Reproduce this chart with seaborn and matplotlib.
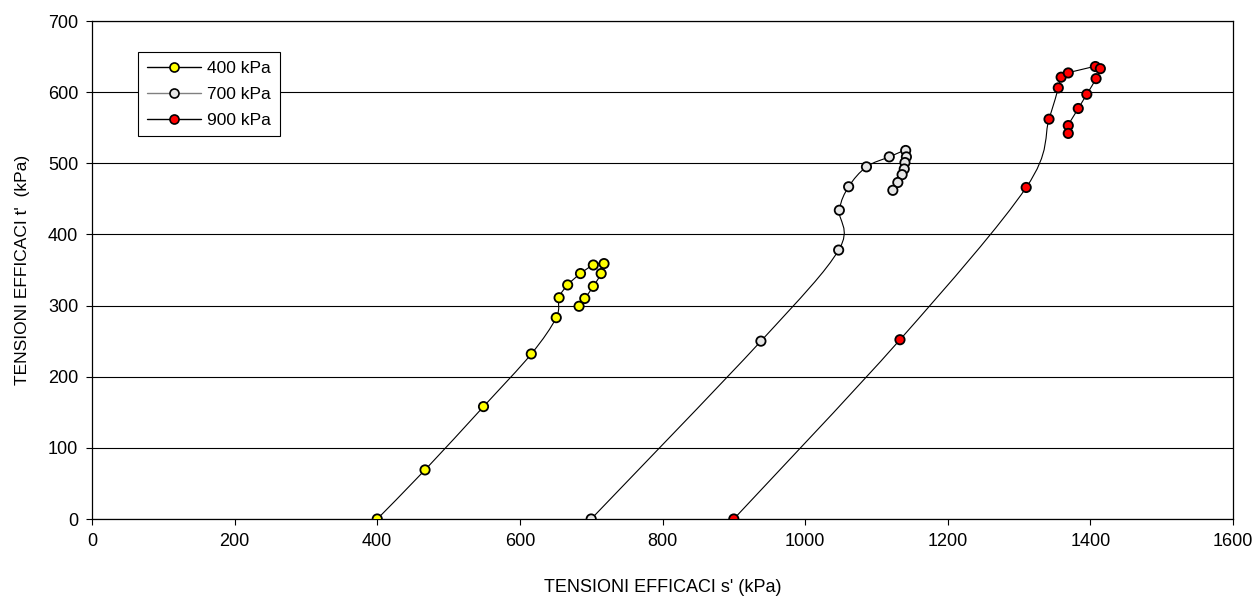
import numpy as np
import pandas as pd
import matplotlib
matplotlib.use("Agg")
import matplotlib.pyplot as plt
from matplotlib.path import Path
from matplotlib.patches import PathPatch
from matplotlib.lines import Line2D
import seaborn as sns

# ---- data ----
s_400 = [400, 467, 549, 616, 651, 655, 667, 685, 703, 718, 714, 703, 691, 683]
t_400 = [0, 69, 158, 232, 283, 311, 329, 345, 357, 359, 345, 327, 310, 299]

s_700 = [700, 938, 1047, 1048, 1061, 1086, 1118, 1141, 1142, 1140, 1139, 1136, 1130, 1123]
t_700 = [0, 250, 378, 434, 467, 495, 509, 518, 509, 501, 492, 484, 473, 462]

s_900 = [900, 1133, 1310, 1342, 1355, 1359, 1369, 1407, 1414, 1408, 1395, 1383, 1369, 1369]
t_900 = [0, 252, 466, 562, 606, 621, 627, 636, 633, 619, 597, 577, 553, 542]

labels = ["400 kPa", "700 kPa", "900 kPa"]
fills = ["#FFFF00", "#E6E6E6", "#FF0000"]
legend_line_colors = ["black", "#808080", "black"]

frames = []
for lab, s, t in zip(labels, [s_400, s_700, s_900], [t_400, t_700, t_900]):
    frames.append(pd.DataFrame({"s": s, "t": t, "serie": lab}))
df = pd.concat(frames, ignore_index=True)

x_ticks = [0, 200, 400, 600, 800, 1000, 1200, 1400, 1600]
y_ticks = [0, 100, 200, 300, 400, 500, 600, 700]

sns.set_theme(style="white")
plt.rcParams["font.family"] = ["Liberation Sans", "DejaVu Sans"]
plt.rcParams["text.color"] = "black"

FS = 13

fig = plt.figure(figsize=(12.57, 5.97), dpi=100)
ax = fig.add_axes([92 / 1257, 78 / 597, 1141 / 1257, 498 / 597])

# Excel-like smoothed line (Bezier through the data points)
def smooth_path(xs, ys):
    P = np.column_stack([xs, ys]).astype(float)
    n = len(P)
    verts = [P[0]]
    codes = [Path.MOVETO]
    for i in range(n - 1):
        p0 = P[i - 1] if i > 0 else P[i]
        p1 = P[i]
        p2 = P[i + 1]
        p3 = P[i + 2] if i + 2 < n else P[i + 1]
        c1 = p1 + (p2 - p0) / 6.0
        c2 = p2 - (p3 - p1) / 6.0
        verts += [c1, c2, p2]
        codes += [Path.CURVE4] * 3
    return Path(verts, codes)

for lab in labels:
    sub = df[df["serie"] == lab]
    patch = PathPatch(smooth_path(sub["s"].values, sub["t"].values),
                      facecolor="none", edgecolor="black", lw=0.8, zorder=3)
    ax.add_patch(patch)

sns.scatterplot(data=df, x="s", y="t", hue="serie", hue_order=labels,
                palette=dict(zip(labels, fills)), s=45, edgecolor="black",
                linewidth=1.3, ax=ax, zorder=4, legend=False)

ax.set_xlim(0, 1600)
ax.set_ylim(0, 700)
ax.set_xticks(x_ticks)
ax.set_yticks(y_ticks)
ax.set_xticklabels([str(v) for v in x_ticks])
ax.set_yticklabels([str(v) for v in y_ticks])
ax.tick_params(axis="both", direction="out", length=4, width=0.8,
               color="black", labelsize=FS, labelcolor="black", pad=6,
               bottom=True, left=True)

ax.yaxis.grid(True, color="black", lw=0.8)
ax.xaxis.grid(False)
ax.set_axisbelow(True)
for sp in ax.spines.values():
    sp.set_visible(True)
    sp.set_color("black")
    sp.set_linewidth(0.9)

ax.set_xlabel("TENSIONI EFFICACI s' (kPa)", fontsize=FS, color="black", va="center")
ax.set_ylabel("TENSIONI EFFICACI t'  (kPa)", fontsize=FS - 0.5, color="black", va="center")
ax.xaxis.set_label_coords(0.5, -69 / 498)
ax.yaxis.set_label_coords(-70 / 1141, 0.5)

handles = [Line2D([0], [0], color=lc, lw=1.0, marker="o", markersize=6.5,
                  markerfacecolor=fc, markeredgecolor="black", markeredgewidth=1.2)
           for lc, fc in zip(legend_line_colors, fills)]
leg = ax.legend(handles, labels, loc="upper left",
                bbox_to_anchor=(46 / 1141, (519 - 52) / 498), borderaxespad=0,
                fontsize=FS - 0.5, frameon=True, fancybox=False, handlelength=3.1,
                handletextpad=0.4, borderpad=0.5, labelspacing=0.62)
leg.get_frame().set_edgecolor("black")
leg.get_frame().set_linewidth(0.8)
leg.get_frame().set_alpha(1)
for txt in leg.get_texts():
    txt.set_color("black")

fig.savefig("out.png", dpi=100)
